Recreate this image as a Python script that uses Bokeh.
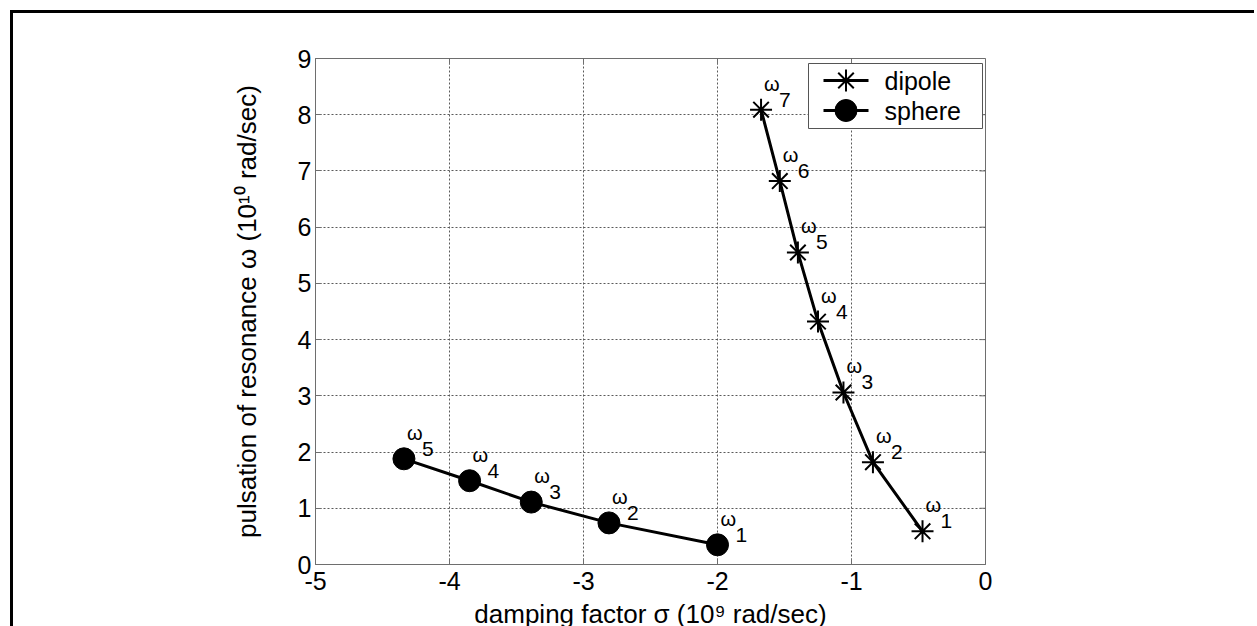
import math

from bokeh.plotting import figure
from bokeh.models import (ColumnDataSource, CustomJSTickFormatter, FixedTicker,
                          GlobalInlineStyleSheet, Range1d)
from bokeh.core.properties import value
from bokeh.embed import file_html
from bokeh.resources import INLINE

# Resonance poles: damping factor sigma (1e9 rad/s), pulsation omega (1e10 rad/s)
dipole_sigma = [-0.47, -0.84, -1.06, -1.25, -1.40, -1.535, -1.675]
dipole_omega = [0.59, 1.82, 3.06, 4.32, 5.55, 6.82, 8.09]
dipole_index = ["1", "2", "3", "4", "5", "6", "7"]

sphere_sigma = [-2.00, -2.81, -3.39, -3.85, -4.34]
sphere_omega = [0.35, 0.74, 1.11, 1.49, 1.88]
sphere_index = ["1", "2", "3", "4", "5"]

series_names = ["dipole", "sphere"]
series_markers = ["asterisk", "circle"]

x_ticks = [-5, -4, -3, -2, -1, 0]
x_tick_labels = ["-5", "-4", "-3", "-2", "-1", "0"]
y_ticks = [0, 1, 2, 3, 4, 5, 6, 7, 8, 9]
y_tick_labels = ["0", "1", "2", "3", "4", "5", "6", "7", "8", "9"]

x_title = "damping factor σ (10⁹ rad/sec)"
y_title = "pulsation of resonance ω (10¹⁰ rad/sec)"

FONT = "Liberation Sans"
AXIS_GREY = "#6e6e6e"

# page geometry in px: canvas offset by the page frame, plot frame edges;
# the canvas runs a little past the bottom of the page, which is cropped
OFF = 13
PAGE_W, PAGE_H = 1257, 626
EXTRA_BOTTOM = 10
FL, FR, FT, FB = 315, 985, 58, 564

X0, X1 = -5, 0
Y0, Y1 = 0, 9


def px_x(px):
    return X0 + (px - FL) * (X1 - X0) / (FR - FL)


def px_y(py):
    return Y0 + (FB - py) * (Y1 - Y0) / (FB - FT)


p = figure(width=PAGE_W - OFF, height=PAGE_H - OFF + EXTRA_BOTTOM,
           x_range=Range1d(X0, X1), y_range=Range1d(Y0, Y1),
           output_backend="svg", toolbar_location=None,
           min_border_left=FL - OFF, min_border_right=PAGE_W - FR,
           min_border_top=FT - OFF, min_border_bottom=PAGE_H - FB + EXTRA_BOTTOM)
p.styles = {"margin-left": "10px", "margin-top": "10px",
            "border-left": "3px solid black", "border-top": "3px solid black"}
p.stylesheets = [GlobalInlineStyleSheet(css="html, body { margin: 0; overflow: hidden; }")]
p.background_fill_color = "white"
p.border_fill_color = "white"
p.outline_line_color = AXIS_GREY
p.outline_line_width = 1

label_lookup = """
const i = tick_values.indexOf(tick);
return i >= 0 ? tick_texts[i] : String(tick);
"""
p.xaxis.ticker = FixedTicker(ticks=x_ticks)
p.xaxis.formatter = CustomJSTickFormatter(
    args=dict(tick_values=x_ticks, tick_texts=x_tick_labels), code=label_lookup)
p.yaxis.ticker = FixedTicker(ticks=y_ticks)
p.yaxis.formatter = CustomJSTickFormatter(
    args=dict(tick_values=y_ticks, tick_texts=y_tick_labels), code=label_lookup)

for ax in p.axis:
    ax.axis_line_color = AXIS_GREY
    ax.axis_line_width = 1
    ax.major_tick_line_color = AXIS_GREY
    ax.major_tick_line_width = 1
    ax.major_tick_in = 6
    ax.major_tick_out = 0
    ax.minor_tick_line_color = None
    ax.major_label_text_font = FONT
    ax.major_label_text_font_size = "25px"
    ax.major_label_text_color = "black"
    ax.axis_label_text_font = FONT
    ax.axis_label_text_font_size = "26px"
    ax.axis_label_text_font_style = "normal"
    ax.axis_label_text_color = "black"

p.xaxis.major_label_standoff = 7
p.yaxis.major_label_standoff = 4
p.xaxis.axis_label = x_title
p.xaxis.axis_label_standoff = 6
p.yaxis.axis_label = y_title
p.yaxis.axis_label_standoff = 33

p.grid.grid_line_color = "#5a5a5a"
p.grid.grid_line_dash = "2 2"
p.grid.grid_line_width = 1

# inward ticks along the top and right sides of the box
p.ray(x=x_ticks, y=[Y1] * len(x_ticks), length=6, angle=-math.pi / 2,
      length_units="screen", line_color=AXIS_GREY, line_width=1)
p.ray(x=[X1] * len(y_ticks), y=y_ticks, length=6, angle=math.pi,
      length_units="screen", line_color=AXIS_GREY, line_width=1)

# series
p.line(dipole_sigma, dipole_omega, line_color="black", line_width=3)
p.scatter(dipole_sigma, dipole_omega, marker=series_markers[0], size=22,
          line_color="black", line_width=2)
p.line(sphere_sigma, sphere_omega, line_color="black", line_width=3)
p.scatter(sphere_sigma, sphere_omega, marker=series_markers[1], size=22,
          fill_color="black", line_color="black")

# omega_k tags next to each pole
for sig, om, idx in ((dipole_sigma, dipole_omega, dipole_index),
                     (sphere_sigma, sphere_omega, sphere_index)):
    src = ColumnDataSource(dict(x=sig, y=om, k=idx))
    p.text(x="x", y="y", text=value("ω"), source=src, x_offset=3, y_offset=-26,
           text_font=value(FONT), text_font_size=value("20px"),
           text_color="black", text_align="left", text_baseline="alphabetic")
    p.text(x="x", y="y", text="k", source=src, x_offset=18, y_offset=-10,
           text_font=value(FONT), text_font_size=value("21px"),
           text_color="black", text_align="left", text_baseline="alphabetic")

# legend box in the upper right corner of the axes
LEG_L, LEG_R, LEG_T, LEG_B = 808, 982, 63, 128
row_y = [px_y(80), px_y(110)]
row_text = [px_y(80), px_y(110)]
p.quad(left=px_x(LEG_L), right=px_x(LEG_R), top=px_y(LEG_T), bottom=px_y(LEG_B),
       fill_color="white", line_color="#555555", line_width=1)
p.segment(x0=[px_x(823)] * 2, x1=[px_x(868)] * 2, y0=row_y, y1=row_y,
          line_color="black", line_width=3)
p.scatter(x=[px_x(845.5)], y=[row_y[0]], marker=series_markers[0], size=22,
          line_color="black", line_width=2)
p.scatter(x=[px_x(845.5)], y=[row_y[1]], marker=series_markers[1], size=22,
          fill_color="black", line_color="black")
p.text(x=[px_x(884)] * 2, y=row_text, text=series_names,
       text_font=value(FONT), text_font_size=value("25px"), text_color="black",
       text_align="left", text_baseline="alphabetic")

open("out.html", "w").write(file_html(p, INLINE))
